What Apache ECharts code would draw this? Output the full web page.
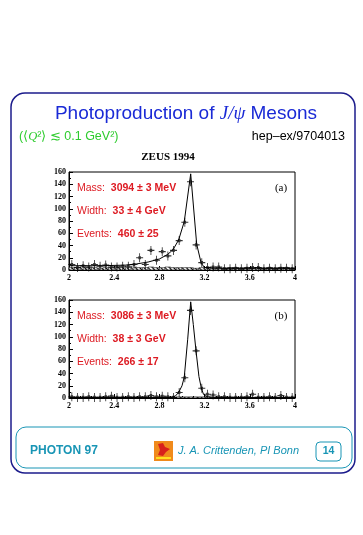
<!DOCTYPE html>
<html><head><meta charset="utf-8">
<script src="https://cdn.jsdelivr.net/npm/echarts@6/dist/echarts.min.js"></script>
<style>html,body{margin:0;padding:0;background:#fff}#c{width:363px;height:535px}</style>
</head><body><div id="c"></div>
<script>
// ---- data ----
const binCenters = [2.025,2.075,2.125,2.175,2.225,2.275,2.325,2.375,2.425,2.475,
  2.525,2.575,2.625,2.675,2.725,2.775,2.825,2.875,2.925,2.975,
  3.025,3.075,3.125,3.175,3.225,3.275,3.325,3.375,3.425,3.475,
  3.525,3.575,3.625,3.675,3.725,3.775,3.825,3.875,3.925,3.975];
const countsA = [9,4,7,5,9,6,8,5,5,6, 6,9,20,9,32,16,30,23,32,48, 78,144,41,12,4,5,5,2,2,3, 2,3,4,4,2,3,2,3,3,2];
const hatchA  = [4,4,5,4,4,3,4,4,5,4, 4,5,4,4,5,4,4,5,4,4, 4,4,3,4,4,3,4,3,4,4, 3,4,3,4,3,4,3,4,4,3];
const countsB = [2,1,1,2,1,1,2,3,1,1, 2,1,2,2,4,2,3,2,1,9, 33,143,77,16,6,5,2,2,1,1, 1,2,6,1,1,2,1,4,1,1];
const hatchB  = [0,0,0,0,0,0,0,0,0,0, 0,0,0,0,0,0,0,0,0,2, 2,2,2,2,2,0,0,0,0,0, 0,0,0,0,0,0,0,0,0,0];
const fitAx = [2.0,2.3,2.5,2.6,2.7,2.8,2.87,2.92,2.97,3.02,3.077,3.13,3.17,3.2,3.3,4.0];
const fitAy = [7,7,8,10,13,18,25,33,49,79,157,42,11,4,3,3];
const fitBx = [2.0,2.9,2.94,2.97,3.0,3.02,3.05,3.077,3.1,3.124,3.15,3.17,3.19,3.22,3.3,4.0];
const fitBy = [1,1,3,9,20,34,95,157,120,77,35,17,6,2,1,1];
const xTickLabels = ['2','2.4','2.8','3.2','3.6','4'];
const yTickLabels = ['0','20','40','60','80','100','120','140','160'];
const panelLabels = ['(a)','(b)'];
const massText = ['3094', '3086'];
const widthText = ['33', '38'];
const widthErr = ['4', '3'];
const eventsText = ['460', '266'];
const eventsErr = ['25', '17'];

// ---- chart ----
const chart = echarts.init(document.getElementById('c'), null, {renderer:'canvas'});
const pairs = (xs, ys) => xs.map((x,i)=>[x, ys[i]]);
const plus = 'path://M0,4.4H10V5.6H0Z M4.4,0H5.6V10H4.4Z M3.2,3.3H6.8V6.7H3.2Z';
const tickFont = {fontFamily:'Liberation Serif', fontWeight:'bold', fontSize:8, color:'#000'};
const xMin = +xTickLabels[0], xMax = +xTickLabels[xTickLabels.length-1];
const yMax = +yTickLabels[yTickLabels.length-1];

function xAx(i){ return {gridIndex:i, type:'value', min:xMin, max:xMax, interval:0.4,
  axisLine:{lineStyle:{color:'#000',width:1}},
  axisTick:{inside:true,length:4,lineStyle:{color:'#000'}},
  minorTick:{show:true,splitNumber:4,length:2,lineStyle:{color:'#000'}},
  splitLine:{show:false},
  axisLabel:Object.assign({margin:4, formatter:v=>xTickLabels.find(t=>Math.abs(+t-v)<1e-6)||''}, tickFont)}; }
function yAx(i){ return {gridIndex:i, type:'value', min:0, max:yMax, interval:20,
  axisLine:{lineStyle:{color:'#000',width:1}},
  axisTick:{inside:true,length:4,lineStyle:{color:'#000'}},
  minorTick:{show:true,splitNumber:2,length:2,lineStyle:{color:'#000'}},
  splitLine:{show:false},
  axisLabel:Object.assign({margin:3, formatter:v=>yTickLabels.find(t=>+t===v)||''}, tickFont)}; }

function seriesFor(i, counts, hatch, fx, fy){
  return [
    {type:'bar', xAxisIndex:i, yAxisIndex:i, data:pairs(binCenters,hatch), barWidth:6, silent:true,
     itemStyle:{color:'#fff', borderColor:'#000', borderWidth:0.4,
       decal:{symbol:'rect', symbolSize:1, dashArrayX:[1,0], dashArrayY:[1,1.5], rotation:Math.PI/4, color:'#000', backgroundColor:'#fff'}}, z:2},
    {type:'line', xAxisIndex:i, yAxisIndex:i, data:pairs(fx,fy), symbol:'none', smooth:false,
     lineStyle:{color:'#000', width:1}, z:3},
    {type:'scatter', xAxisIndex:i, yAxisIndex:i, data:pairs(binCenters,counts), symbol:plus,
     symbolSize:[7,9], itemStyle:{color:'#000'}, z:4}
  ];
}

const red = '#dd1a22';
function annot(i, top){
  const rich = {n:{fill:red, font:'10.5px "Liberation Sans"'}, b:{fill:red, font:'bold 10.5px "Liberation Sans"'}};
  return [
    {type:'text', x:77, y:top, style:{text:'{n|Mass:  }{b|'+massText[i]+' ± 3 MeV}', rich, textVerticalAlign:'middle'}},
    {type:'text', x:77, y:top+23, style:{text:'{n|Width:  }{b|'+widthText[i]+' ± '+widthErr[i]+' GeV}', rich, textVerticalAlign:'middle'}},
    {type:'text', x:77, y:top+46, style:{text:'{n|Events:  }{b|'+eventsText[i]+' ± '+eventsErr[i]+'}', rich, textVerticalAlign:'middle'}},
    {type:'text', x:281, y:top, style:{text:panelLabels[i], fill:'#000', font:'11px "Liberation Serif"', textAlign:'center', textVerticalAlign:'middle'}}
  ];
}

const teal = '#1895b5';
const option = {
  animation:false,
  grid:[
    {left:69, top:172, width:226, height:98, show:true, borderColor:'#000', borderWidth:1, backgroundColor:'transparent'},
    {left:69, top:300, width:226, height:98, show:true, borderColor:'#000', borderWidth:1, backgroundColor:'transparent'}
  ],
  xAxis:[xAx(0), xAx(1)],
  yAxis:[yAx(0), yAx(1)],
  series:[].concat(seriesFor(0,countsA,hatchA,fitAx,fitAy), seriesFor(1,countsB,hatchB,fitBx,fitBy)),
  graphic:[
    {type:'rect', shape:{x:11,y:93,width:344,height:380,r:14}, style:{fill:'none', stroke:'#1c1c8c', lineWidth:1.5}, z:-1},
    {type:'rect', shape:{x:16,y:427,width:336,height:41,r:10}, style:{fill:'none', stroke:teal, lineWidth:1}},
    {type:'text', x:186, y:114, style:{text:'{a|Photoproduction of }{i|J/ψ}{a| Mesons}', textAlign:'center', textVerticalAlign:'middle',
      rich:{a:{fill:'#1a2ad6', font:'19px "Liberation Sans"'}, i:{fill:'#1a2ad6', font:'italic 19px "Liberation Serif"'}}}},
    {type:'text', x:19, y:137, style:{text:'{a|(⟨}{i|Q}{a|²⟩ ≲ 0.1 GeV²)}', textVerticalAlign:'middle',
      rich:{a:{fill:'#2ecc2e', font:'12.5px "Liberation Sans"'}, i:{fill:'#2ecc2e', font:'italic 12.5px "Liberation Serif"'}}}},
    {type:'text', x:345, y:137, style:{text:'hep–ex/9704013', fill:'#000', font:'12.5px "Liberation Sans"', textAlign:'right', textVerticalAlign:'middle'}},
    {type:'text', x:168, y:157, style:{text:'ZEUS 1994', fill:'#000', font:'bold 11px "Liberation Serif"', textAlign:'center', textVerticalAlign:'middle'}},
    {type:'text', x:30, y:451, style:{text:'PHOTON 97', fill:teal, font:'bold 12px "Liberation Sans"', textVerticalAlign:'middle'}},
    {type:'rect', shape:{x:154,y:441,width:19,height:20}, style:{fill:'#f08a1c'}},
    {type:'polygon', shape:{points:[[158,444],[163,443],[165,447],[170,449],[166,452],[163,456],[158,455],[160,450]]}, style:{fill:'#d8201c'}},
    {type:'rect', shape:{x:156,y:457,width:15,height:2}, style:{fill:'#ffe020'}},
    {type:'text', x:178, y:451, style:{text:'J. A. Crittenden, PI Bonn', fill:teal, font:'italic 11px "Liberation Sans"', textVerticalAlign:'middle'}},
    {type:'rect', shape:{x:316,y:442,width:25,height:19,r:4}, style:{fill:'none', stroke:teal, lineWidth:1}},
    {type:'text', x:328.5, y:451.5, style:{text:'14', fill:teal, font:'bold 10.5px "Liberation Sans"', textAlign:'center', textVerticalAlign:'middle'}}
  ].concat(annot(0,188), annot(1,316))
};
chart.setOption(option);
</script></body></html>
